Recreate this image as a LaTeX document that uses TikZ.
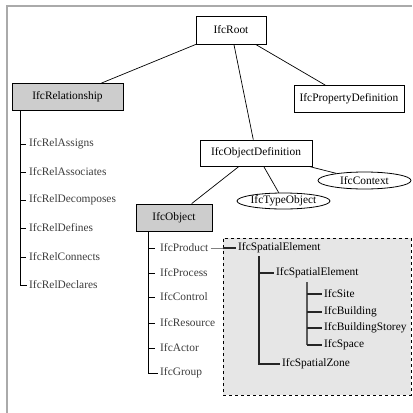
\documentclass[tikz,border=0pt]{standalone}
\usepackage{fontspec}
\setmainfont{Liberation Serif}
\usetikzlibrary{shapes.geometric,shadows}
\definecolor{boxgray}{HTML}{CDCDCD}
\definecolor{zonegray}{HTML}{E6E6E6}
\definecolor{framegray}{HTML}{AAAAAA}
\definecolor{listink}{HTML}{3C3C3C}
\begin{document}
\begin{tikzpicture}[x=1pt,y=-1pt,
  every node/.style={font=\fontsize{11.4}{13}\selectfont},
  classbox/.style={draw,line width=0.8pt,fill=white,inner sep=0pt,
    drop shadow={shadow xshift=0.7pt,shadow yshift=-0.7pt,opacity=1,fill=black}},
  abstractbox/.style={classbox,fill=boxgray},
  typeoval/.style={draw,ellipse,line width=0.8pt,fill=white,inner sep=0pt},
  item/.style={anchor=west,inner sep=2pt,text=listink},
  zoneitem/.style={anchor=west,inner sep=2pt,text=black},
  link/.style={line width=0.7pt},
  tree/.style={line width=0.8pt,black},
  zonetree/.style={line width=1.1pt,black!85},
  zonetrunk/.style={line width=1.5pt,black!65}]
\useasboundingbox (0,0) rectangle (413,413);

% page frame (top and left edges only)
\draw[framegray,line width=1.2pt] (7,413) -- (7,6) -- (412,6);

% spatial structure zone
\node[draw,dashed,line width=1pt,fill=zonegray,minimum width=188pt,minimum height=157pt,inner sep=0pt]
  (sbox) at (317,316.5) {};

% class boxes
\node[classbox,minimum width=70pt,minimum height=28pt] (root) at (231,30) {IfcRoot};
\node[abstractbox,minimum width=111pt,minimum height=27pt] (rel) at (67.5,97) {IfcRelationship};
\node[classbox,minimum width=110pt,minimum height=27pt] (prop) at (349,99) {IfcPropertyDefinition};
\node[classbox,minimum width=112pt,minimum height=26pt] (objdef) at (256,153) {IfcObjectDefinition};
\node[typeoval,minimum width=93pt,minimum height=17pt] (ctx) at (364.5,180.5) {IfcContext};
\node[typeoval,minimum width=93pt,minimum height=16pt] (type) at (283.5,201) {IfcTypeObject};
\node[abstractbox,minimum width=76pt,minimum height=27pt] (obj) at (174,217.5) {IfcObject};

% inheritance links
\draw[link] (root) -- (rel);
\draw[link] (root) -- (prop);
\draw[link] (root) -- (objdef);
\draw[link] (objdef) -- (obj);
\draw[link] (objdef) -- (type);
\draw[link] (objdef) -- (ctx);

% relationship subtypes
\node[item] (r1) at (27,144) {IfcRelAssigns};
\node[item] (r2) at (27,172) {IfcRelAssociates};
\node[item] (r3) at (27,200) {IfcRelDecomposes};
\node[item] (r4) at (27,228) {IfcRelDefines};
\node[item] (r5) at (27,257) {IfcRelConnects};
\node[item] (r6) at (27,285) {IfcRelDeclares};
\coordinate (rt) at (20,110);
\draw[tree] (rt) |- (r6.west);
\foreach \n in {r1,r2,r3,r4,r5}
  \draw[tree] (rt |- \n.west) -- ++(6,0);

% object subtypes
\node[item] (o1) at (158,248) {IfcProduct};
\node[item] (o2) at (158,273) {IfcProcess};
\node[item] (o3) at (158,297) {IfcControl};
\node[item] (o4) at (158,323) {IfcResource};
\node[item] (o5) at (158,348) {IfcActor};
\node[item] (o6) at (158,373) {IfcGroup};
\coordinate (ot) at (148,231);
\draw[tree] (ot) |- (o6.west);
\foreach \n in {o1,o2,o3,o4,o5}
  \draw[tree] (ot |- \n.west) -- ++(7,0);

% spatial structure
\node[zoneitem] (se1) at (236,248) {IfcSpatialElement};
\node[zoneitem] (se2) at (274,273) {IfcSpatialElement};
\node[zoneitem] (site) at (322,294) {IfcSite};
\node[zoneitem] (bldg) at (322,312) {IfcBuilding};
\node[zoneitem] (storey) at (322,328) {IfcBuildingStorey};
\node[zoneitem] (space) at (322,345) {IfcSpace};
\node[zoneitem] (zone) at (280,364) {IfcSpatialZone};

\draw[link,gray] (o1.east) -- (o1.east -| sbox.west);
\draw[zonetree] (o1.east -| sbox.west) -- (se1.west);

\coordinate (st1) at (259,256);
\draw[zonetree] (st1) |- (zone.west);
\draw[zonetree] (st1 |- se2.west) -- (se2.west);

\coordinate (st2) at (307,282);
\draw[zonetrunk] (st2) -- (st2 |- space.west);
\foreach \n in {site,bldg,storey,space}
  \draw[zonetree] (st2 |- \n.west) -- (\n.west);
\end{tikzpicture}
\end{document}
